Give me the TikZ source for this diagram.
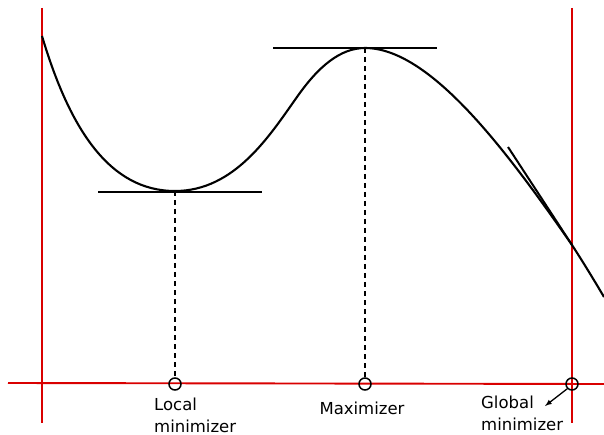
\documentclass[tikz,border=0pt]{standalone}
\usepackage{fontspec}
\setmainfont{DejaVu Sans}
\begin{document}
\begin{tikzpicture}[x=1pt,y=-1pt,
  redline/.style={red!85!black, line width=1.9pt},
  curve/.style={black, line width=2.1pt},
  tangent/.style={black, line width=2pt},
  dashline/.style={black, line width=2pt, dash pattern=on 5pt off 4pt},
  ptmark/.style={circle, draw=black, line width=1.5pt, minimum size=12pt, inner sep=0pt},
  lab/.style={font=\fontsize{16.5}{21.5}\selectfont, align=left, inner sep=0pt}]
\useasboundingbox (0,0) rectangle (604,435);
% red axes
\coordinate (lt) at (42,8); \coordinate (lb) at (42,423);
\coordinate (rt) at (572,8); \coordinate (rb) at (572,423);
\coordinate (al) at (8,383); \coordinate (ar) at (604,384);
\draw[redline] (lt) -- (lb);
\draw[redline] (rt) -- (rb);
\draw[redline] (al) -- (ar);
% curve
\coordinate (c0) at (42,36);
\coordinate (cmin) at (175,191);
\coordinate (cinf) at (297,97);
\coordinate (cmax) at (365,48);
\coordinate (cg) at (572,245);
\coordinate (cend) at (604,297);
\draw[curve] (c0) .. controls (70,130) and (110,191) .. (cmin)
  .. controls (235,191) and (270,135) .. (cinf)
  .. controls (318,67) and (340,48) .. (cmax)
  .. controls (430,48) and (506,150) .. (cg)
  .. controls (583,262) and (594,280) .. (cend);
% tangents
\coordinate (t1a) at (98,192); \coordinate (t1b) at (262,192);
\coordinate (t2a) at (273,48); \coordinate (t2b) at (437,48);
\coordinate (t3a) at (508,147);
\draw[tangent] (t1a) -- (t1b);
\draw[tangent] (t2a) -- (t2b);
\draw[tangent] (t3a) -- (cg);
% markers
\node[ptmark] (m1) at (175,384) {};
\node[ptmark] (m2) at (365,384) {};
\node[ptmark] (m3) at (572,384) {};
\draw[dashline] (cmin) -- (m1.north);
\draw[dashline] (cmax) -- (m2.north);
% labels
\node[lab, anchor=north west] (l1) at (154,398) {Local\\minimizer};
\node[lab, anchor=north] (l2) at (362,402) {Maximizer};
\node[lab, anchor=north west] (l3) at (481,396) {Global\\minimizer};
\coordinate (arrtip) at (545,406);
\draw[-latex, line width=1.3pt] (m3.south west) -- (arrtip);
\end{tikzpicture}
\end{document}
